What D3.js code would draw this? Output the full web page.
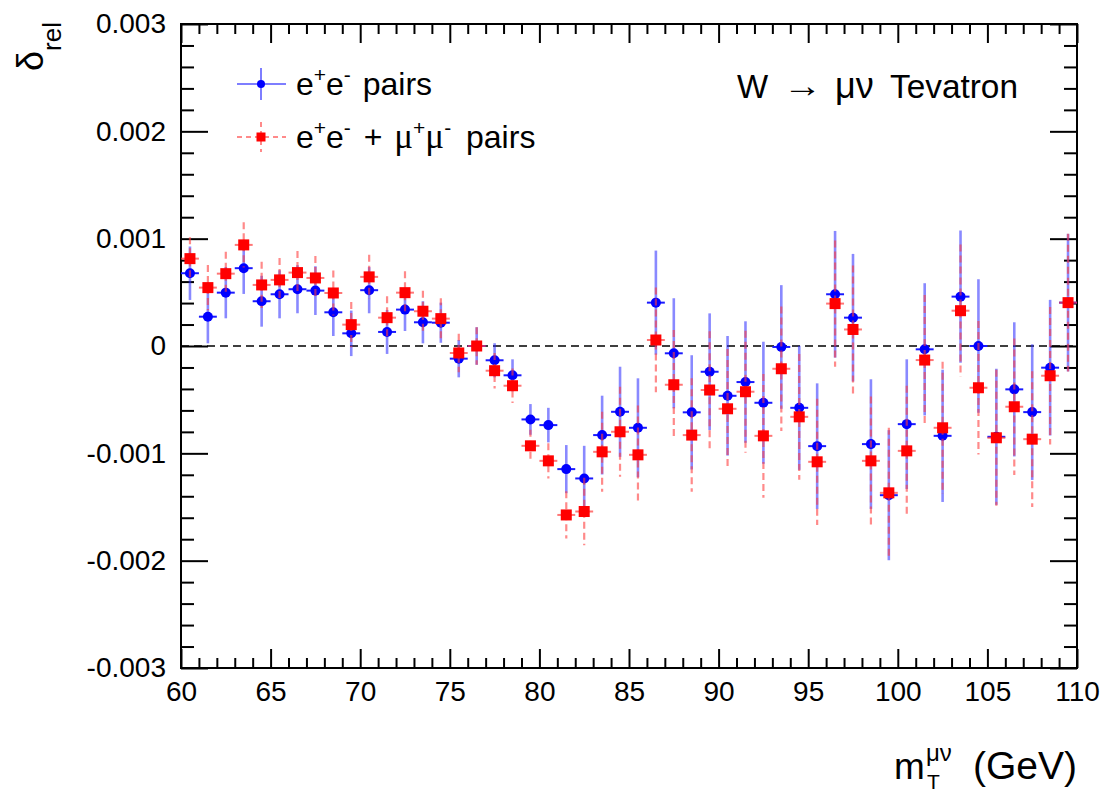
<!DOCTYPE html>
<html>
<head>
<meta charset="utf-8">
<script src="https://cdn.jsdelivr.net/npm/d3@7"></script>
<style>
  body { margin: 0; background: #fff; }
  svg { display: block; }
  text { font-family: "Liberation Sans", Arial, Helvetica, sans-serif; fill: #000; }
</style>
</head>
<body>
<svg id="chart" width="1107" height="794"></svg>
<script>
// Transverse-mass bin centres (GeV), 1 GeV bins from 60 to 110
const mT = [60.5, 61.5, 62.5, 63.5, 64.5, 65.5, 66.5, 67.5, 68.5, 69.5,
            70.5, 71.5, 72.5, 73.5, 74.5, 75.5, 76.5, 77.5, 78.5, 79.5,
            80.5, 81.5, 82.5, 83.5, 84.5, 85.5, 86.5, 87.5, 88.5, 89.5,
            90.5, 91.5, 92.5, 93.5, 94.5, 95.5, 96.5, 97.5, 98.5, 99.5,
            100.5, 101.5, 102.5, 103.5, 104.5, 105.5, 106.5, 107.5, 108.5, 109.5];

// Relative correction, e+e- pairs only
const deltaEE = [0.000678, 0.000273, 0.000497, 0.000725, 0.000417, 0.000482, 0.000529, 0.000516, 0.000314, 0.000118,
                 0.000520, 0.000131, 0.000339, 0.000221, 0.000217, -0.000118, 0.000000, -0.000133, -0.000273, -0.000684,
                 -0.000737, -0.001147, -0.001234, -0.000830, -0.000613, -0.000762, 0.000404, -0.000068, -0.000618, -0.000240,
                 -0.000464, -0.000336, -0.000529, -0.000009, -0.000576, -0.000933, 0.000482, 0.000264, -0.000914, -0.001390,
                 -0.000728, -0.000031, -0.000837, 0.000460, 0.000000, -0.000846, -0.000404, -0.000616, -0.000202, 0.000404];
const errEE = [0.000249, 0.000248, 0.000239, 0.000240, 0.000237, 0.000224, 0.000224, 0.000227, 0.000221, 0.000212,
               0.000215, 0.000205, 0.000199, 0.000196, 0.000187, 0.000174, 0.000175, 0.000159, 0.000149, 0.000143,
               0.000161, 0.000224, 0.000304, 0.000367, 0.000420, 0.000461, 0.000485, 0.000513, 0.000532, 0.000544,
               0.000557, 0.000566, 0.000569, 0.000576, 0.000578, 0.000585, 0.000590, 0.000594, 0.000604, 0.000606,
               0.000604, 0.000616, 0.000616, 0.000616, 0.000622, 0.000634, 0.000625, 0.000632, 0.000632, 0.000641];

// Relative correction, e+e- and mu+mu- pairs
const deltaEEMM = [0.000814, 0.000544, 0.000674, 0.000942, 0.000569, 0.000616, 0.000684, 0.000634, 0.000494, 0.000199,
                   0.000644, 0.000264, 0.000497, 0.000324, 0.000255, -0.000065, 0.000000, -0.000230, -0.000370, -0.000930,
                   -0.001070, -0.001574, -0.001542, -0.000986, -0.000799, -0.001014, 0.000056, -0.000361, -0.000830, -0.000410,
                   -0.000585, -0.000426, -0.000837, -0.000212, -0.000660, -0.001079, 0.000395, 0.000154, -0.001070, -0.001368,
                   -0.000977, -0.000131, -0.000762, 0.000329, -0.000389, -0.000855, -0.000566, -0.000868, -0.000277, 0.000404];
const errEEMM = [0.000200, 0.000210, 0.000205, 0.000210, 0.000215, 0.000205, 0.000200, 0.000205, 0.000210, 0.000210,
                 0.000205, 0.000200, 0.000200, 0.000190, 0.000190, 0.000180, 0.000175, 0.000165, 0.000160, 0.000150,
                 0.000165, 0.000220, 0.000315, 0.000373, 0.000420, 0.000460, 0.000488, 0.000510, 0.000529, 0.000548,
                 0.000557, 0.000569, 0.000576, 0.000581, 0.000585, 0.000588, 0.000588, 0.000597, 0.000600, 0.000606,
                 0.000606, 0.000606, 0.000616, 0.000616, 0.000621, 0.000634, 0.000637, 0.000632, 0.000640, 0.000641];

const binHalfWidth = 0.5;

// Axis ticks and labels
const xMajorTicks = [60, 65, 70, 75, 80, 85, 90, 95, 100, 105, 110];
const xTickLabels = ["60", "65", "70", "75", "80", "85", "90", "95", "100", "105", "110"];
const yMajorTicks = [-0.003, -0.002, -0.001, 0, 0.001, 0.002, 0.003];
const yTickLabels = ["-0.003", "-0.002", "-0.001", "0", "0.001", "0.002", "0.003"];

const svg = d3.select("#chart");
const frame = { left: 181, right: 1077, top: 24, bottom: 668 };

const x = d3.scaleLinear().domain([60, 110]).range([frame.left, frame.right]);
const y = d3.scaleLinear().domain([-0.003, 0.003]).range([frame.bottom, frame.top]);

const xMinor = d3.range(60, 111, 1).filter(v => !xMajorTicks.includes(v));
const yMinor = d3.range(-30, 31, 2).map(v => v / 10000).filter(v => !yMajorTicks.some(t => Math.abs(t - v) < 1e-9));

function styleAxis(g) {
  g.select(".domain").remove();
  g.selectAll(".tick line").attr("stroke", "#000").attr("stroke-width", 2);
  g.selectAll(".tick text").attr("font-size", 28).attr("fill", "#000")
    .attr("font-family", "'Liberation Sans', Arial, Helvetica, sans-serif");
}

// Bottom axis
svg.append("g").attr("transform", `translate(0,${frame.bottom})`)
  .call(d3.axisBottom(x).tickValues(xMajorTicks).tickSize(-19).tickPadding(13)
    .tickFormat((d, i) => xTickLabels[i]))
  .call(styleAxis);
svg.append("g").attr("transform", `translate(0,${frame.bottom})`)
  .call(d3.axisBottom(x).tickValues(xMinor).tickSize(-10).tickFormat(""))
  .call(styleAxis);
// Top axis (ticks only)
svg.append("g").attr("transform", `translate(0,${frame.top})`)
  .call(d3.axisTop(x).tickValues(xMajorTicks).tickSize(-19).tickFormat(""))
  .call(styleAxis);
svg.append("g").attr("transform", `translate(0,${frame.top})`)
  .call(d3.axisTop(x).tickValues(xMinor).tickSize(-10).tickFormat(""))
  .call(styleAxis);
// Left axis
svg.append("g").attr("transform", `translate(${frame.left},0)`)
  .call(d3.axisLeft(y).tickValues(yMajorTicks).tickSize(-27).tickPadding(15)
    .tickFormat((d, i) => yTickLabels[i]))
  .call(styleAxis);
svg.append("g").attr("transform", `translate(${frame.left},0)`)
  .call(d3.axisLeft(y).tickValues(yMinor).tickSize(-13).tickFormat(""))
  .call(styleAxis);
// Right axis (ticks only)
svg.append("g").attr("transform", `translate(${frame.right},0)`)
  .call(d3.axisRight(y).tickValues(yMajorTicks).tickSize(-27).tickFormat(""))
  .call(styleAxis);
svg.append("g").attr("transform", `translate(${frame.right},0)`)
  .call(d3.axisRight(y).tickValues(yMinor).tickSize(-13).tickFormat(""))
  .call(styleAxis);

// Frame
svg.append("rect")
  .attr("x", frame.left).attr("y", frame.top)
  .attr("width", frame.right - frame.left).attr("height", frame.bottom - frame.top)
  .attr("fill", "none").attr("stroke", "#000").attr("stroke-width", 2);

// Zero reference line
svg.append("line")
  .attr("x1", x(60)).attr("x2", x(110)).attr("y1", y(0)).attr("y2", y(0))
  .attr("stroke", "#000").attr("stroke-width", 1.6).attr("stroke-dasharray", "8,5");

// e+e- pairs: blue circles with solid error bars
const ee = svg.append("g");
ee.selectAll("line.v").data(mT).join("line").attr("class", "v")
  .attr("x1", d => x(d)).attr("x2", d => x(d))
  .attr("y1", (d, i) => y(deltaEE[i] + errEE[i]))
  .attr("y2", (d, i) => y(deltaEE[i] - errEE[i]))
  .attr("stroke", "rgba(40,40,255,0.55)").attr("stroke-width", 2.6);
ee.selectAll("line.h").data(mT).join("line").attr("class", "h")
  .attr("x1", d => x(d - binHalfWidth)).attr("x2", d => x(d + binHalfWidth))
  .attr("y1", (d, i) => y(deltaEE[i])).attr("y2", (d, i) => y(deltaEE[i]))
  .attr("stroke", "#1a1aff").attr("stroke-width", 2);
ee.selectAll("circle").data(mT).join("circle")
  .attr("cx", d => x(d)).attr("cy", (d, i) => y(deltaEE[i]))
  .attr("r", 5).attr("fill", "#0000ff");

// e+e- + mu+mu- pairs: red squares with dashed error bars
const eemm = svg.append("g");
eemm.selectAll("line.v").data(mT).join("line").attr("class", "v")
  .attr("x1", d => x(d)).attr("x2", d => x(d))
  .attr("y1", (d, i) => y(deltaEEMM[i] + errEEMM[i]))
  .attr("y2", (d, i) => y(deltaEEMM[i] - errEEMM[i]))
  .attr("stroke", "rgba(255,60,60,0.6)").attr("stroke-width", 2.2)
  .attr("stroke-dasharray", "7,4");
eemm.selectAll("line.h").data(mT).join("line").attr("class", "h")
  .attr("x1", d => x(d - binHalfWidth)).attr("x2", d => x(d + binHalfWidth))
  .attr("y1", (d, i) => y(deltaEEMM[i])).attr("y2", (d, i) => y(deltaEEMM[i]))
  .attr("stroke", "rgba(255,60,60,0.7)").attr("stroke-width", 2);
eemm.selectAll("rect").data(mT).join("rect")
  .attr("x", d => x(d) - 5.5).attr("y", (d, i) => y(deltaEEMM[i]) - 5.5)
  .attr("width", 11).attr("height", 11).attr("fill", "#ff0000");

// Legend
const legend = svg.append("g");
const lgX = 261, lgL = 237, lgR = 286;
legend.append("line").attr("x1", lgL).attr("x2", lgR).attr("y1", 84).attr("y2", 84)
  .attr("stroke", "rgba(40,40,255,0.6)").attr("stroke-width", 2);
legend.append("line").attr("x1", lgX).attr("x2", lgX).attr("y1", 68).attr("y2", 100)
  .attr("stroke", "rgba(40,40,255,0.6)").attr("stroke-width", 2);
legend.append("circle").attr("cx", lgX).attr("cy", 84).attr("r", 4).attr("fill", "#0000ff");
legend.append("line").attr("x1", lgL).attr("x2", lgR).attr("y1", 137).attr("y2", 137)
  .attr("stroke", "rgba(255,60,60,0.6)").attr("stroke-width", 2).attr("stroke-dasharray", "5,4");
legend.append("line").attr("x1", lgX).attr("x2", lgX).attr("y1", 122).attr("y2", 152)
  .attr("stroke", "rgba(255,60,60,0.6)").attr("stroke-width", 2).attr("stroke-dasharray", "5,4");
legend.append("rect").attr("x", lgX - 4.5).attr("y", 132.5).attr("width", 9).attr("height", 9).attr("fill", "#ff0000");

const serif = "'Liberation Serif', 'Times New Roman', serif";
const t1 = legend.append("text").attr("x", 296).attr("y", 95).attr("font-size", 32);
t1.append("tspan").text("e");
t1.append("tspan").attr("font-size", 21).attr("dy", -13).text("+");
t1.append("tspan").attr("dy", 13).text("e");
t1.append("tspan").attr("font-size", 21).attr("dy", -13).text("-");
t1.append("tspan").attr("dy", 13).attr("dx", 3).text(" pairs");

const t2 = legend.append("text").attr("x", 296).attr("y", 148).attr("font-size", 32);
t2.append("tspan").text("e");
t2.append("tspan").attr("font-size", 21).attr("dy", -13).text("+");
t2.append("tspan").attr("dy", 13).text("e");
t2.append("tspan").attr("font-size", 21).attr("dy", -13).text("-");
t2.append("tspan").attr("dy", 13).attr("dx", 4).text(" + ");
t2.append("tspan").attr("dx", 3).attr("font-family", serif).attr("font-size", 35).text("\u03bc");
t2.append("tspan").attr("font-size", 21).attr("dy", -13).text("+");
t2.append("tspan").attr("dy", 13).attr("font-family", serif).attr("font-size", 35).text("\u03bc");
t2.append("tspan").attr("font-size", 21).attr("dy", -13).text("-");
t2.append("tspan").attr("dy", 13).attr("dx", 6).text(" pairs");

// Process label, placed piece by piece
const proc = svg.append("g").attr("font-size", 33);
proc.append("text").attr("x", 737).attr("y", 98).text("W");
proc.append("text").attr("x", 783).attr("y", 97)
  .attr("font-family", "'DejaVu Sans', sans-serif").attr("font-size", 34)
  .attr("textLength", 39).attr("lengthAdjust", "spacingAndGlyphs").text("\u2192");
proc.append("text").attr("x", 835).attr("y", 98)
  .attr("font-family", serif).attr("font-size", 36).text("\u03bc\u03bd");
proc.append("text").attr("x", 890).attr("y", 98)
  .attr("textLength", 128).attr("lengthAdjust", "spacingAndGlyphs").text("Tevatron");

// X axis title: m_T^{mu nu} (GeV)
const xt = svg.append("g");
xt.append("text").attr("x", 894).attr("y", 779).attr("font-size", 37).text("m");
xt.append("text").attr("x", 926).attr("y", 761).attr("font-size", 24).attr("font-family", serif).text("\u03bc\u03bd");
xt.append("text").attr("x", 927).attr("y", 789).attr("font-size", 21).text("T");
xt.append("text").attr("x", 1077).attr("y", 779).attr("font-size", 39).attr("text-anchor", "end").text("(GeV)");

// Y axis title: delta_rel
const yt = svg.append("text").attr("transform", "translate(43,22) rotate(-90)")
  .attr("text-anchor", "end").attr("font-size", 36);
yt.append("tspan").text("\u03b4");
yt.append("tspan").attr("font-size", 26).attr("dy", 18).text("rel");
</script>
</body>
</html>
